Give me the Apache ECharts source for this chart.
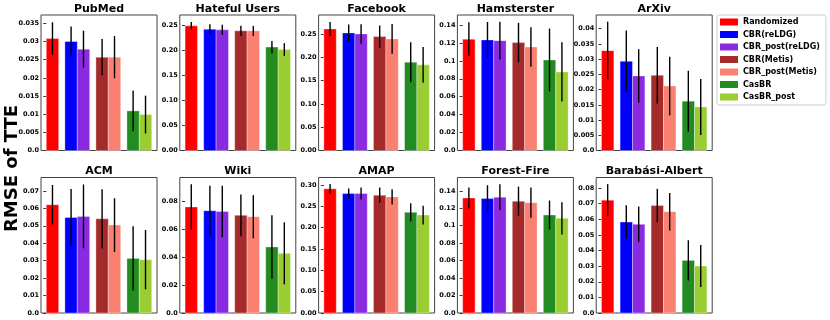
<!DOCTYPE html>
<html>
<head>
<meta charset="utf-8">
<script src="https://cdn.jsdelivr.net/npm/echarts@6/dist/echarts.min.js"></script>
<style>
  html, body { margin: 0; padding: 0; background: #fff; }
  #chart { width: 830px; height: 320px; }
</style>
</head>
<body>
<div id="chart"></div>
<script>
// methods / legend
var methods = ['Randomized', 'CBR(reLDG)', 'CBR_post(reLDG)', 'CBR(Metis)', 'CBR_post(Metis)', 'CasBR', 'CasBR_post'];
var colors = ['#ff0000', '#0000ff', '#8a2be2', '#a52a2a', '#fa8072', '#228b22', '#9acd32'];
// bar slots on the x axis: single red bar, then three pairs
var xSlots = [0.2, 0.8, 1.2, 1.8, 2.2, 2.8, 3.2];

var datasets = ['PubMed', 'Hateful Users', 'Facebook', 'Hamsterster', 'ArXiv',
                'ACM', 'Wiki', 'AMAP', 'Forest-Fire', 'Barabási-Albert'];

// RMSE of TTE, one row per dataset, same order as methods
var rmsePubMed   = [0.0308, 0.0300, 0.0279, 0.0257, 0.0257, 0.0109, 0.0099];
var rmseHateful  = [0.2484, 0.2418, 0.2404, 0.2384, 0.2384, 0.2060, 0.2012];
var rmseFacebook = [0.2611, 0.2526, 0.2504, 0.2446, 0.2396, 0.1897, 0.1839];
var rmseHamster  = [0.1241, 0.1233, 0.1225, 0.1203, 0.1155, 0.1010, 0.0876];
var rmseArXiv    = [0.0328, 0.0293, 0.0245, 0.0247, 0.0212, 0.0162, 0.0143];
var rmseACM      = [0.0621, 0.0548, 0.0554, 0.0540, 0.0504, 0.0313, 0.0306];
var rmseWiki     = [0.0762, 0.0735, 0.0730, 0.0702, 0.0692, 0.0475, 0.0429];
var rmseAMAP     = [0.2908, 0.2797, 0.2797, 0.2760, 0.2720, 0.2358, 0.2295];
var rmseForest   = [0.1319, 0.1311, 0.1327, 0.1281, 0.1265, 0.1123, 0.1085];
var rmseBA       = [0.0723, 0.0583, 0.0568, 0.0688, 0.0649, 0.0337, 0.0301];

// std (error bars)
var errPubMed   = [0.0045, 0.0041, 0.0051, 0.0050, 0.0058, 0.0056, 0.0052];
var errHateful  = [0.0075, 0.0100, 0.0100, 0.0100, 0.0100, 0.0120, 0.0128];
var errFacebook = [0.0150, 0.0180, 0.0210, 0.0240, 0.0320, 0.0430, 0.0386];
var errHamster  = [0.0190, 0.0200, 0.0210, 0.0220, 0.0220, 0.0350, 0.0330];
var errArXiv    = [0.0095, 0.0101, 0.0088, 0.0093, 0.0096, 0.0100, 0.0092];
var errACM      = [0.0113, 0.0163, 0.0183, 0.0170, 0.0154, 0.0184, 0.0170];
var errWiki     = [0.0164, 0.0180, 0.0185, 0.0150, 0.0155, 0.0228, 0.0223];
var errAMAP     = [0.0115, 0.0120, 0.0140, 0.0180, 0.0180, 0.0210, 0.0220];
var errForest   = [0.0120, 0.0154, 0.0150, 0.0167, 0.0173, 0.0166, 0.0185];
var errBA       = [0.0103, 0.0107, 0.0114, 0.0107, 0.0120, 0.0129, 0.0135];

var rmse = [rmsePubMed, rmseHateful, rmseFacebook, rmseHamster, rmseArXiv,
            rmseACM, rmseWiki, rmseAMAP, rmseForest, rmseBA];
var errs = [errPubMed, errHateful, errFacebook, errHamster, errArXiv,
            errACM, errWiki, errAMAP, errForest, errBA];

// y axis upper limits and tick labels
var yMax = [0.0373, 0.270, 0.291, 0.1511, 0.0445, 0.0777, 0.0974, 0.3174, 0.1553, 0.0868];
var yTicks = [
  ['0.0', '0.005', '0.01', '0.015', '0.02', '0.025', '0.03', '0.035'],
  ['0.00', '0.05', '0.10', '0.15', '0.20', '0.25'],
  ['0.00', '0.05', '0.10', '0.15', '0.20', '0.25'],
  ['0.0', '0.02', '0.04', '0.06', '0.08', '0.1', '0.12', '0.14'],
  ['0.0', '0.005', '0.01', '0.015', '0.02', '0.025', '0.03', '0.035', '0.04'],
  ['0.0', '0.01', '0.02', '0.03', '0.04', '0.05', '0.06', '0.07'],
  ['0.0', '0.02', '0.04', '0.06', '0.08'],
  ['0.00', '0.05', '0.10', '0.15', '0.20', '0.25', '0.30'],
  ['0.0', '0.02', '0.04', '0.06', '0.08', '0.1', '0.12', '0.14'],
  ['0.0', '0.01', '0.02', '0.03', '0.04', '0.05', '0.06', '0.07', '0.08']
];

var BAR_W = 0.4;
var FONT = 'DejaVu Sans';

var chart = echarts.init(document.getElementById('chart'));

function renderBar(params, api) {
  var x = api.value(0), v = api.value(1), e = api.value(2);
  var p0 = api.coord([x - BAR_W / 2, v]);
  var p1 = api.coord([x + BAR_W / 2, 0]);
  var eTop = api.coord([x, v + e]);
  var eBot = api.coord([x, v - e]);
  return {
    type: 'group',
    children: [{
      type: 'rect',
      shape: {x: p0[0], y: p0[1], width: p1[0] - p0[0], height: p1[1] - p0[1]},
      style: {fill: api.visual('color'), stroke: 'rgba(255,255,255,0.35)', lineWidth: 1}
    }, {
      type: 'line',
      shape: {x1: eTop[0], y1: eTop[1], x2: eBot[0], y2: eBot[1]},
      style: {stroke: '#000', lineWidth: 1.4}
    }]
  };
}

function makeFormatter(labels) {
  var vals = labels.map(function (s) { return parseFloat(s); });
  return function (v) {
    for (var k = 0; k < vals.length; k++) {
      if (Math.abs(vals[k] - v) < 1e-9) return labels[k];
    }
    return '';
  };
}

var grids = [], xAxes = [], yAxes = [], titles = [], series = [];
for (var i = 0; i < datasets.length; i++) {
  var col = i % 5, row = Math.floor(i / 5);
  var gridLeft = 41 + col * 138.8;
  var gridTop = row === 0 ? 15 : 177.5;
  grids.push({
    left: gridLeft, top: gridTop, width: 116, height: 135.5,
    show: true, borderColor: '#444', borderWidth: 1, backgroundColor: '#fff'
  });
  titles.push({
    text: datasets[i],
    left: gridLeft + 58, top: row === 0 ? 3.5 : 165.5,
    textAlign: 'center',
    padding: 0,
    textStyle: {fontFamily: FONT, fontWeight: 'bold', fontSize: 11, color: '#000'}
  });
  xAxes.push({
    gridIndex: i, type: 'value', min: -0.17, max: 3.57,
    axisLine: {show: false}, axisTick: {show: false}, axisLabel: {show: false},
    splitLine: {show: false}
  });
  var tickVals = yTicks[i].map(function (s) { return parseFloat(s); });
  yAxes.push({
    gridIndex: i, type: 'value', min: 0, max: yMax[i],
    axisLine: {show: false},
    axisTick: {show: true, length: 3, lineStyle: {color: '#333', width: 1}, customValues: tickVals},
    axisLabel: {
      fontFamily: FONT, fontWeight: 'bold', fontSize: 6.5, color: '#000', margin: 2,
      customValues: tickVals,
      formatter: makeFormatter(yTicks[i])
    },
    splitLine: {show: false}
  });
  for (var j = 0; j < methods.length; j++) {
    series.push({
      type: 'custom',
      name: methods[j],
      xAxisIndex: i, yAxisIndex: i,
      itemStyle: {color: colors[j]},
      renderItem: renderBar,
      data: [[xSlots[j], rmse[i][j], errs[i][j]]],
      silent: true
    });
  }
}

var option = {
  animation: false,
  backgroundColor: '#fff',
  title: titles,
  grid: grids,
  xAxis: xAxes,
  yAxis: yAxes,
  legend: {
    data: methods,
    icon: 'rect',
    orient: 'vertical',
    left: 717, top: 15,
    padding: [3, 6, 4, 3],
    itemWidth: 18, itemHeight: 7, itemGap: 4.5,
    selectedMode: false,
    backgroundColor: '#fff',
    borderColor: '#ccc', borderWidth: 1, borderRadius: 2,
    textStyle: {fontFamily: FONT, fontWeight: 'bold', fontSize: 8, color: '#000'}
  },
  graphic: [{
    type: 'text',
    x: 3, y: 232,
    rotation: Math.PI / 2,
    style: {
      text: 'RMSE of TTE',
      font: 'bold 18px "DejaVu Sans"',
      fill: '#000'
    }
  }],
  series: series
};
chart.setOption(option);
</script>
</body>
</html>
